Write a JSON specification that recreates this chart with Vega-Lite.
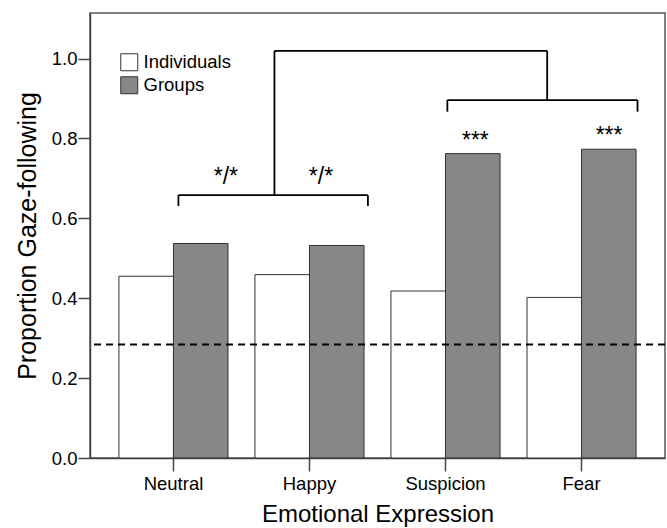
{
  "$schema": "https://vega.github.io/schema/vega-lite/v6.json",
  "width": 575,
  "height": 445,
  "autosize": {"type": "none"},
  "padding": {"left": 90, "top": 13, "right": 2, "bottom": 70},
  "background": "white",
  "config": {
    "font": "Liberation Sans",
    "view": {"stroke": "#555", "strokeWidth": 1.5}
  },
  "datasets": {
    "bars": [
      {"emotion": "Neutral", "group": "Individuals", "proportion": 0.455},
      {"emotion": "Neutral", "group": "Groups", "proportion": 0.537},
      {"emotion": "Happy", "group": "Individuals", "proportion": 0.459},
      {"emotion": "Happy", "group": "Groups", "proportion": 0.532},
      {"emotion": "Suspicion", "group": "Individuals", "proportion": 0.418},
      {"emotion": "Suspicion", "group": "Groups", "proportion": 0.762},
      {"emotion": "Fear", "group": "Individuals", "proportion": 0.402},
      {"emotion": "Fear", "group": "Groups", "proportion": 0.773}
    ],
    "chance": [{"chance": 0.284}],
    "brackets": [
      {"x1": 0.650, "x2": 2.043, "y1": 0.658, "y2": 0.658},
      {"x1": 0.650, "x2": 0.650, "y1": 0.631, "y2": 0.658},
      {"x1": 2.043, "x2": 2.043, "y1": 0.631, "y2": 0.658},
      {"x1": 2.627, "x2": 4.025, "y1": 0.896, "y2": 0.896},
      {"x1": 2.627, "x2": 2.627, "y1": 0.867, "y2": 0.896},
      {"x1": 4.025, "x2": 4.025, "y1": 0.867, "y2": 0.896},
      {"x1": 1.356, "x2": 3.361, "y1": 1.019, "y2": 1.019},
      {"x1": 1.356, "x2": 1.356, "y1": 0.658, "y2": 1.019},
      {"x1": 3.361, "x2": 3.361, "y1": 0.896, "y2": 1.019}
    ],
    "labels": [
      {"pos": 0.999, "height": 0.685, "label": "*/*"},
      {"pos": 1.698, "height": 0.685, "label": "*/*"},
      {"pos": 2.833, "height": 0.776, "label": "***"},
      {"pos": 3.816, "height": 0.789, "label": "***"}
    ]
  },
  "layer": [
    {
      "data": {"name": "bars"},
      "mark": {"type": "bar", "stroke": "#333", "strokeWidth": 1},
      "encoding": {
        "x": {
          "field": "emotion", "type": "nominal",
          "sort": ["Neutral", "Happy", "Suspicion", "Fear"],
          "scale": {"paddingInner": 0.198, "paddingOuter": 0.2125},
          "axis": {
            "title": "Emotional Expression", "labelAngle": 0, "tickSize": 13,
            "labelPadding": 3, "labelFontSize": 18.5, "labelColor": "black",
            "titleFontSize": 24, "titleFontWeight": "normal", "titleColor": "black",
            "titlePadding": 10, "domainColor": "#444", "tickColor": "#444",
            "domainWidth": 1.5, "tickWidth": 1.5
          }
        },
        "xOffset": {
          "field": "group", "type": "nominal",
          "sort": ["Individuals", "Groups"],
          "scale": {"paddingInner": 0, "paddingOuter": 0}
        },
        "y": {
          "field": "proportion", "type": "quantitative",
          "scale": {"domain": [0, 1.114], "nice": false},
          "axis": {
            "title": "Proportion Gaze-following",
            "values": [0, 0.2, 0.4, 0.6, 0.8, 1.0], "format": ".1f", "grid": false,
            "tickSize": 12, "labelPadding": 1, "labelFontSize": 18.5, "labelColor": "black",
            "titleFontSize": 25, "titleFontWeight": "normal", "titleColor": "black",
            "titlePadding": 11, "domainColor": "#444", "tickColor": "#444",
            "domainWidth": 1.5, "tickWidth": 1.5
          }
        },
        "fill": {
          "field": "group", "type": "nominal",
          "scale": {"domain": ["Individuals", "Groups"], "range": ["#ffffff", "#878787"]},
          "legend": {
            "title": null, "orient": "none", "legendX": 30, "legendY": 40,
            "symbolType": "square", "symbolSize": 289, "symbolStrokeColor": "#333",
            "symbolStrokeWidth": 1, "labelFontSize": 18.5, "labelColor": "black",
            "rowPadding": 1, "labelOffset": 5, "padding": 0
          }
        }
      }
    },
    {
      "data": {"name": "chance"},
      "mark": {"type": "rule", "strokeDash": [7, 5], "strokeWidth": 2, "color": "black"},
      "encoding": {"y": {"field": "chance", "type": "quantitative"}}
    },
    {
      "data": {"name": "brackets"},
      "mark": {"type": "rule", "color": "black", "strokeWidth": 1.8},
      "encoding": {
        "x": {"field": "x1", "type": "quantitative", "scale": {"domain": [0, 4.227], "nice": false, "zero": false}, "axis": null},
        "x2": {"field": "x2"},
        "y": {"field": "y1", "type": "quantitative"},
        "y2": {"field": "y2"}
      }
    },
    {
      "data": {"name": "labels"},
      "mark": {"type": "text", "fontSize": 23, "baseline": "alphabetic", "align": "center", "color": "black"},
      "encoding": {
        "x": {"field": "pos", "type": "quantitative", "scale": {"domain": [0, 4.227], "nice": false, "zero": false}, "axis": null},
        "y": {"field": "height", "type": "quantitative"},
        "text": {"field": "label"}
      }
    }
  ],
  "resolve": {"scale": {"x": "independent"}}
}
